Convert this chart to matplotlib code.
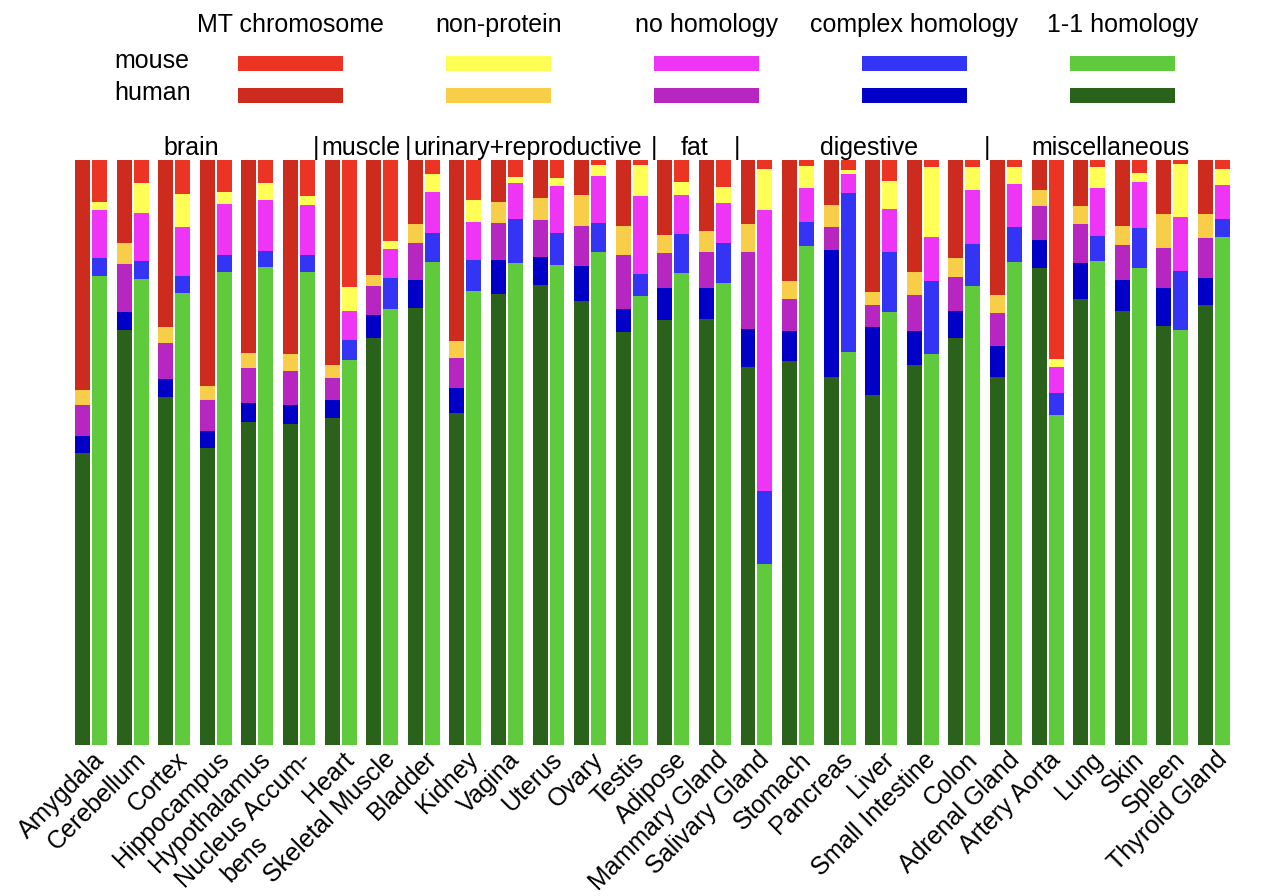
import matplotlib
matplotlib.use("Agg")
import matplotlib.pyplot as plt
import matplotlib.transforms as mtransforms
from matplotlib.patches import Rectangle
from matplotlib.font_manager import FontProperties
import numpy as np

plt.rcParams['font.family'] = ['Liberation Sans', 'DejaVu Sans']

tissues = ["Amygdala", "Cerebellum", "Cortex", "Hippocampus", "Hypothalamus",
           "Nucleus Accum-\nbens", "Heart", "Skeletal Muscle", "Bladder", "Kidney",
           "Vagina", "Uterus", "Ovary", "Testis", "Adipose", "Mammary Gland",
           "Salivary Gland", "Stomach", "Pancreas", "Liver", "Small Intestine",
           "Colon", "Adrenal Gland", "Artery Aorta", "Lung", "Skin", "Spleen",
           "Thyroid Gland"]

categories = ["1-1 homology", "complex homology", "no homology", "non-protein", "MT chromosome"]

# percentages, human
human_one2one = [49.9, 70.9, 59.5, 50.8, 55.2, 54.9, 55.9, 69.6, 74.7, 56.8, 77.1, 78.6, 75.9, 70.6,
                 72.6, 72.8, 64.6, 65.6, 62.9, 59.8, 65.0, 69.6, 62.9, 81.5, 76.2, 74.2, 71.6, 75.2]
human_complex = [2.9, 3.1, 3.1, 2.9, 3.2, 3.2, 3.1, 3.9, 4.8, 4.3, 5.8, 4.8, 6.0, 3.9,
                 5.5, 5.3, 6.5, 5.1, 21.7, 11.6, 5.8, 4.6, 5.3, 4.8, 6.2, 5.3, 6.5, 4.6]
human_nohom = [5.3, 8.2, 6.2, 5.3, 6.0, 5.8, 3.8, 5.0, 6.3, 5.1, 6.3, 6.3, 6.8, 9.2,
               6.0, 6.2, 13.2, 5.5, 3.9, 3.8, 6.2, 5.8, 5.6, 5.8, 6.7, 6.0, 6.8, 6.8]
human_nonprot = [2.6, 3.6, 2.6, 2.4, 2.6, 2.9, 2.2, 1.9, 3.2, 2.9, 3.6, 3.8, 5.3, 5.1,
                 3.1, 3.6, 4.8, 3.2, 3.8, 2.2, 3.8, 3.2, 3.1, 2.7, 3.1, 3.2, 5.8, 4.1]
human_mt = [39.3, 14.2, 28.6, 38.6, 33.0, 33.2, 35.0, 19.6, 11.0, 30.9, 7.2, 6.5, 6.0, 11.2,
            12.8, 12.1, 10.9, 20.6, 7.7, 22.6, 19.2, 16.8, 23.1, 5.2, 7.8, 11.3, 9.3, 9.3]

# percentages, mouse
mouse_one2one = [80.2, 79.7, 77.3, 80.9, 81.7, 80.9, 65.8, 74.5, 82.5, 77.6, 82.4, 82.0, 84.3, 76.7,
                 80.6, 79.0, 30.9, 85.3, 67.2, 74.1, 66.8, 78.5, 82.5, 56.4, 82.7, 81.5, 70.9, 86.8]
mouse_complex = [3.1, 3.1, 2.9, 2.9, 2.7, 2.9, 3.4, 5.3, 5.0, 5.3, 7.5, 5.5, 5.0, 3.8,
                 6.7, 6.8, 12.6, 4.1, 27.2, 10.1, 12.6, 7.2, 6.0, 3.8, 4.3, 6.8, 10.1, 3.1]
mouse_nohom = [8.2, 8.2, 8.4, 8.7, 8.7, 8.5, 5.0, 5.0, 7.0, 6.5, 6.2, 8.0, 7.9, 13.3,
               6.7, 6.8, 47.9, 5.8, 3.2, 7.4, 7.4, 9.2, 7.4, 4.4, 8.2, 7.9, 9.2, 5.8]
mouse_nonprot = [1.4, 5.1, 5.6, 2.1, 2.9, 1.5, 4.1, 1.4, 3.1, 3.8, 1.0, 1.4, 1.9, 5.3,
                 2.2, 2.7, 7.0, 3.8, 0.7, 4.8, 12.0, 3.9, 2.9, 1.4, 3.6, 1.5, 9.1, 2.7]
mouse_mt = [7.1, 3.9, 5.8, 5.4, 4.0, 6.2, 21.7, 13.8, 2.4, 6.8, 2.9, 3.1, 0.9, 0.9,
            3.8, 4.7, 1.6, 1.0, 1.7, 3.6, 1.2, 1.2, 1.2, 34.0, 1.2, 2.3, 0.7, 1.6]

groups = ["brain", "muscle", "urinary+reproductive", "fat", "digestive", "miscellaneous"]
group_sizes = [6, 2, 6, 2, 6, 6]

human_colors = ["#2B621B", "#0000C6", "#B826C2", "#F8CD48", "#CC2B1E"]
mouse_colors = ["#5ECA3C", "#3434F5", "#EE34F5", "#FFFF55", "#EB3424"]

human = [human_one2one, human_complex, human_nohom, human_nonprot, human_mt]
mouse = [mouse_one2one, mouse_complex, mouse_nohom, mouse_nonprot, mouse_mt]

W, H = 1264, 896
fig = plt.figure(figsize=(W / 100, H / 100), dpi=100)
ax = fig.add_axes([75 / W, (H - 745) / H, (1230 - 75) / W, (745 - 160) / H])

x = np.arange(len(tissues))
off = 0.204
bw = 0.36
hb = np.zeros(len(tissues))
mb = np.zeros(len(tissues))
for k in range(len(categories)):
    hv = np.array(human[k])
    mv = np.array(mouse[k])
    ax.bar(x - off, hv, bw, bottom=hb, color=human_colors[k], linewidth=0)
    ax.bar(x + off, mv, bw, bottom=mb, color=mouse_colors[k], linewidth=0)
    hb += hv
    mb += mv

ax.set_xlim(-0.385, len(tissues) - 1 + 0.385)
ax.set_ylim(0, 100)
ax.axis('off')

fs = 18
fprop = FontProperties(family=['Liberation Sans', 'DejaVu Sans'], size=fs)
fig.canvas.draw()
renderer = fig.canvas.get_renderer()
trans = mtransforms.blended_transform_factory(ax.transData, ax.transAxes)
u = np.array([np.cos(np.pi / 4), np.sin(np.pi / 4)])   # along text (display, y up)
nvec = np.array([np.sin(np.pi / 4), -np.cos(np.pi / 4)])  # down, perpendicular
for i, name in enumerate(tissues):
    lines = name.split("\n")
    ax.text(i + 0.02, -0.004, lines[0], rotation=45, ha='right', va='top',
            rotation_mode='anchor', fontsize=fs, transform=trans)
    if len(lines) > 1:
        w1, _, _ = renderer.get_text_width_height_descent(lines[0], fprop, ismath=False)
        A = trans.transform((i + 0.02, -0.004))
        P = A + (-w1 + 36) * u + 28 * nvec
        Pax = trans.inverted().transform(P)
        ax.text(Pax[0], Pax[1], lines[1], rotation=45, ha='left', va='top',
                rotation_mode='anchor', fontsize=fs, transform=trans)

# group labels and separators
group_nudge = [-0.1, 0.0, 0.0, 0.0, 0.2, 0.0]
sep_nudge = [-0.09, 0.12, 0.03, 0.03, 0.04]
start = 0
for gi, (g, n) in enumerate(zip(groups, group_sizes)):
    center = start + (n - 1) / 2 + group_nudge[gi]
    ax.text(center, 1.02, g, ha='center', va='center', fontsize=fs, transform=trans)
    end = start + n
    if end < len(tissues):
        ax.text(end - 0.5 + sep_nudge[gi], 1.02, "|", ha='center', va='center',
                fontsize=fs, transform=trans)
    start = end

# legend
col_centers = [290.5, 498.5, 706.5, 914.5, 1122.5]
legend_order = [4, 3, 2, 1, 0]
for c, k in zip(col_centers, legend_order):
    fig.text(c / W, 1 - 25 / H, categories[k], ha='center', va='center', fontsize=fs)
    fig.patches.append(Rectangle(((c - 52.5) / W, 1 - 71 / H), 105 / W, 15 / H,
                                 transform=fig.transFigure, color=mouse_colors[k],
                                 linewidth=0))
    fig.patches.append(Rectangle(((c - 52.5) / W, 1 - 103 / H), 105 / W, 15 / H,
                                 transform=fig.transFigure, color=human_colors[k],
                                 linewidth=0))
fig.text(114 / W, 1 - 61 / H, "mouse", ha='left', va='center', fontsize=fs)
fig.text(114 / W, 1 - 93 / H, "human", ha='left', va='center', fontsize=fs)

fig.savefig("out.png", dpi=100)
